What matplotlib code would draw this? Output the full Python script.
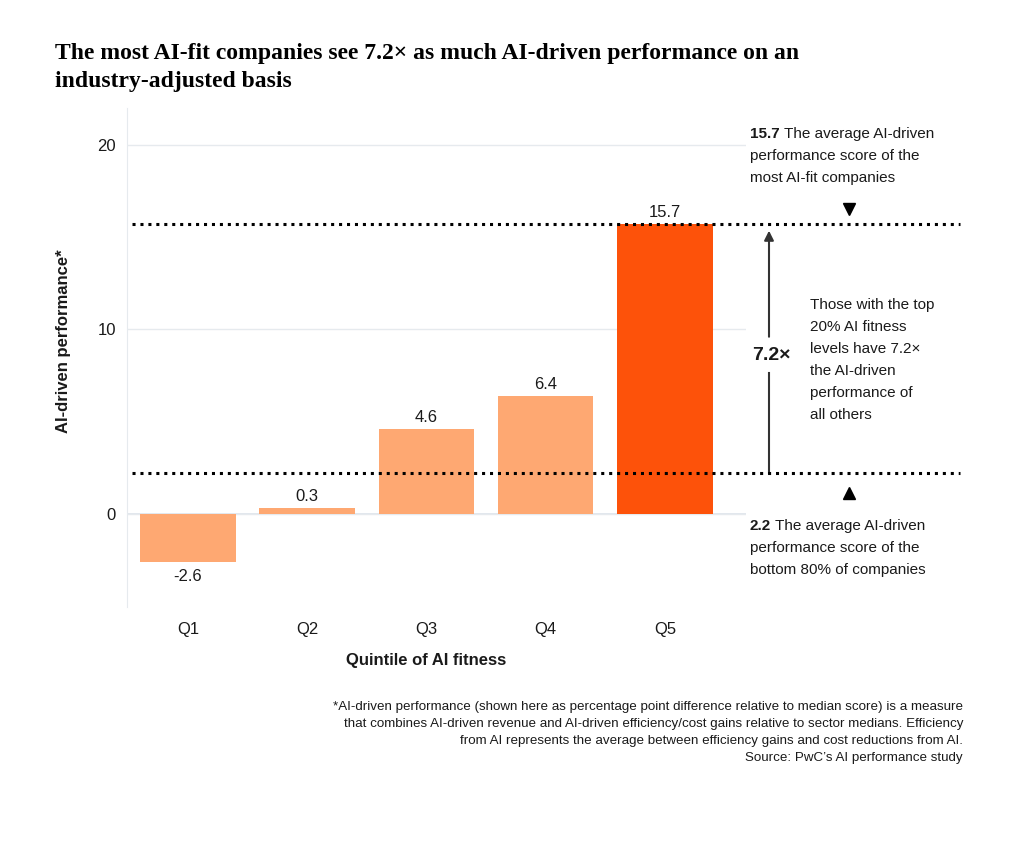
import matplotlib.pyplot as plt
from matplotlib import transforms

quintiles = ["Q1", "Q2", "Q3", "Q4", "Q5"]
performance = [-2.6, 0.3, 4.6, 6.4, 15.7]
top_avg = 15.7
bottom_avg = 2.2
ratio_label = "7.2\u00d7"

LIGHT = "#FEA872"
DARK = "#FD520A"
GRID = "#E6EAEE"
TXT = "#1a1a1a"

plt.rcParams["font.family"] = ["Liberation Sans", "DejaVu Sans"]

W, H = 1024, 844
fig = plt.figure(figsize=(W / 100, H / 100), dpi=100)


def px(x, y):
    return x / W, 1 - y / H


ax = fig.add_axes([127 / W, 1 - 607 / H, (746 - 127) / W, (607 - 108) / H])

colors = [LIGHT] * (len(quintiles) - 1) + [DARK]
xs = list(range(len(quintiles)))
ax.bar(xs, performance, width=0.8, color=colors, zorder=2)

for x, v in zip(xs, performance):
    if v >= 0:
        ax.annotate(f"{v:.1f}", (x, v), xytext=(0, 3), textcoords="offset points",
                    ha="center", va="bottom", fontsize=12, color=TXT)
    else:
        ax.annotate(f"{v:.1f}", (x, v), xytext=(0, -5), textcoords="offset points",
                    ha="center", va="top", fontsize=12, color=TXT)

ax.set_xlim(-0.51, 4.68)
ax.set_ylim(-5.05, 22)
ax.set_yticks([0, 10, 20])
ax.set_xticks(xs)
ax.set_xticklabels(quintiles)
ax.tick_params(axis="both", length=0, labelsize=12, colors=TXT)
ax.tick_params(axis="x", pad=11)
ax.tick_params(axis="y", pad=8)
ax.grid(axis="y", color=GRID, linewidth=1, zorder=0)
for s in ["top", "right", "bottom"]:
    ax.spines[s].set_visible(False)
ax.spines["left"].set_color(GRID)
ax.axhline(0, color="#DDE3EA", linewidth=1.2, zorder=1)

ax.set_ylabel("AI-driven performance*", fontsize=12, fontweight="bold", color=TXT)
ax.yaxis.set_label_coords(-0.09, 0.533)
ax.set_xlabel("Quintile of AI fitness", fontsize=12, fontweight="bold", color=TXT)
ax.xaxis.set_label_coords(0.483, -0.093)

# dotted reference lines extending past the plot
for yv in (top_avg, bottom_avg):
    ax.axhline(yv, xmin=0.008, xmax=(960 - 127) / (746 - 127), color="black",
               linestyle=(0, (1, 1.6)), linewidth=2.2, clip_on=False, zorder=3)

blend = transforms.blended_transform_factory(ax.transAxes, ax.transData)


def ax_x(p):
    return (p - 127) / (746 - 127)


# arrow between the averages with a gap for the label
ax.plot([ax_x(769), ax_x(769)], [bottom_avg, 7.65], color="#333333", lw=1.5,
        transform=blend, clip_on=False)
ax.annotate("", xy=(ax_x(769), 15.35), xytext=(ax_x(769), 9.6),
            xycoords=blend, textcoords=blend,
            arrowprops=dict(arrowstyle="-|>", color="#333333", lw=1.5,
                            mutation_scale=14, shrinkA=0, shrinkB=0))
ax.text(ax_x(771), 8.6, ratio_label, transform=blend, ha="center", va="center",
        fontsize=14, fontweight="bold", color=TXT)

ax.plot([ax_x(849)], [16.55], marker="v", color="black", markersize=9,
        transform=blend, clip_on=False)
ax.plot([ax_x(849)], [1.15], marker="^", color="black", markersize=9,
        transform=blend, clip_on=False)

# side notes, one line at a time
body = 11
step = 22


def note(x, y0, bold, lines):
    first = fig.text(*px(x, y0), bold, fontsize=body, fontweight="bold",
                     color=TXT, va="baseline")
    ax.annotate(" " + lines[0], xy=(1, 0), xycoords=first, fontsize=body,
                color=TXT, va="bottom", ha="left")
    for i, ln in enumerate(lines[1:], start=1):
        fig.text(*px(x, y0 + i * step), ln, fontsize=body, color=TXT, va="baseline")


note(750, 138, f"{top_avg:.1f}",
     ["The average AI-driven", "performance score of the", "most AI-fit companies"])
note(750, 530, f"{bottom_avg:.1f}",
     ["The average AI-driven", "performance score of the", "bottom 80% of companies"])

mid_lines = ["Those with the top", "20% AI fitness", "levels have 7.2\u00d7",
             "the AI-driven", "performance of", "all others"]
for i, ln in enumerate(mid_lines):
    fig.text(*px(810, 309 + i * 21.9), ln, fontsize=body, color=TXT, va="baseline")

fig.text(*px(55, 43), "The most AI-fit companies see 7.2\u00d7 as much AI-driven performance on an\n"
         "industry-adjusted basis",
         family=["Liberation Serif", "DejaVu Serif"], fontsize=17, fontweight="bold",
         color="black", va="top", linespacing=1.45)

fig.text(*px(963, 701),
         "*AI-driven performance (shown here as percentage point difference relative to median score) is a measure\n"
         "that combines AI-driven revenue and AI-driven efficiency/cost gains relative to sector medians. Efficiency\n"
         "from AI represents the average between efficiency gains and cost reductions from AI.\n"
         "Source: PwC\u2019s AI performance study",
         fontsize=9.6, color=TXT, ha="right", va="top", multialignment="right", linespacing=1.55)

fig.savefig("out.png", dpi=100)
